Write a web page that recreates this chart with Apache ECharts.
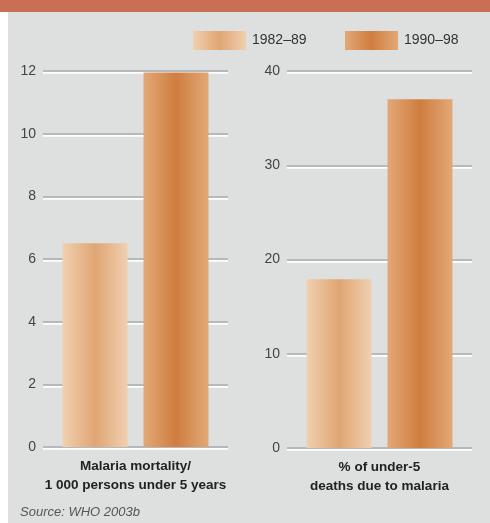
<!DOCTYPE html>
<html>
<head>
<meta charset="utf-8">
<script src="https://cdn.jsdelivr.net/npm/echarts@6/dist/echarts.min.js"></script>
<style>
html,body{margin:0;padding:0;background:#fff;}
#chart{width:490px;height:523px;}
</style>
</head>
<body>
<div id="chart"></div>
<script>
// Data
const periods = ['1982–89', '1990–98'];
const leftCategory = ['Malaria mortality/\n1 000 persons under 5 years'];
const rightCategory = ['% of under-5\ndeaths due to malaria'];
const mortality = [6.5, 11.95];  // per 1 000 persons under 5
const pctDeaths = [17.9, 37.0];  // % of under-5 deaths
const leftTicks = {min: 0, max: 12, interval: 2};
const rightTicks = {min: 0, max: 40, interval: 10};

const grad1 = new echarts.graphic.LinearGradient(0, 0, 1, 0, [
  {offset: 0, color: '#F0D0AF'},
  {offset: 0.5, color: '#E0A574'},
  {offset: 1, color: '#F0D0AF'}
]);
const grad2 = new echarts.graphic.LinearGradient(0, 0, 1, 0, [
  {offset: 0, color: '#E2A877'},
  {offset: 0.5, color: '#D07D3F'},
  {offset: 1, color: '#E2A877'}
]);
const grads = [grad1, grad2];

const chart = echarts.init(document.getElementById('chart'), null, {renderer: 'canvas'});

function yAxis(gridIndex, t) {
  return {
    type: 'value', gridIndex: gridIndex, min: t.min, max: t.max, interval: t.interval,
    axisLine: {show: false}, axisTick: {show: false},
    axisLabel: {color: '#444', fontSize: 14, fontFamily: 'Liberation Sans, Arial, sans-serif', margin: 7},
    splitLine: {show: true, lineStyle: {color: '#B5B9BD', width: 2, shadowColor: '#FFFFFF', shadowOffsetY: 1.8, shadowBlur: 0}}
  };
}
function xAxis(gridIndex, cats) {
  return {
    type: 'category', gridIndex: gridIndex, data: cats,
    axisLine: {show: false}, axisTick: {show: false},
    axisLabel: {color: '#222', fontSize: 13.5, fontWeight: 'bold', fontFamily: 'Liberation Sans Narrow, Arial Narrow, Liberation Sans, sans-serif', lineHeight: 19, margin: 10}
  };
}
function seriesFor(gridIndex, values) {
  return values.map((v, i) => ({
    type: 'bar', name: periods[i], xAxisIndex: gridIndex, yAxisIndex: gridIndex,
    data: [v], barWidth: 65, barGap: '24.6%',
    itemStyle: {color: grads[i]}, z: 3
  }));
}

chart.setOption({
  animation: false,
  backgroundColor: '#FFFFFF',
  graphic: [
    {type: 'rect', shape: {x: 8, y: 0, width: 482, height: 523}, style: {fill: '#DEDFDF'}, z: -10},
    {type: 'rect', shape: {x: 0, y: 0, width: 490, height: 12}, style: {fill: '#C96F55'}, z: -9},
    {type: 'text', left: 20, top: 506, style: {text: 'Source: WHO 2003b', fill: '#555', font: 'italic 13px Liberation Sans, Arial, sans-serif'}}
  ],
  legend: [
    {left: 193, top: 31, padding: 0, itemWidth: 53, itemHeight: 19, itemGap: 6, icon: 'rect', data: [periods[0]],
     textStyle: {color: '#333', fontSize: 14, fontFamily: 'Liberation Sans, Arial, sans-serif', padding: [0,0,0,1]}},
    {left: 345, top: 31, padding: 0, itemWidth: 53, itemHeight: 19, itemGap: 6, icon: 'rect', data: [periods[1]],
     textStyle: {color: '#333', fontSize: 14, fontFamily: 'Liberation Sans, Arial, sans-serif', padding: [0,0,0,1]}}
  ],
  grid: [
    {left: 43, top: 71, width: 185, height: 376},
    {left: 287, top: 71, width: 185, height: 377}
  ],
  xAxis: [xAxis(0, leftCategory), xAxis(1, rightCategory)],
  yAxis: [yAxis(0, leftTicks), yAxis(1, rightTicks)],
  series: [...seriesFor(0, mortality), ...seriesFor(1, pctDeaths)]
});
</script>
</body>
</html>
